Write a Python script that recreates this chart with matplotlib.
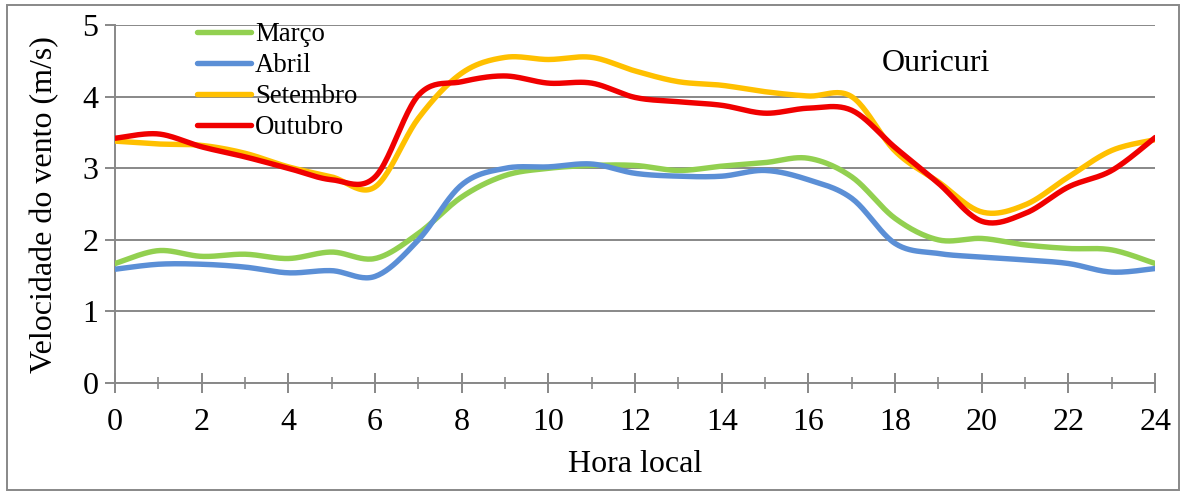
import numpy as np
import matplotlib.pyplot as plt
from matplotlib.patches import Rectangle

# ================= DATA =================
HOURS = list(range(25))

MARCO = [1.67, 1.85, 1.77, 1.80, 1.74, 1.83, 1.74, 2.09, 2.60, 2.90, 3.00, 3.04, 3.04,
         2.97, 3.03, 3.08, 3.14, 2.88, 2.30, 2.00, 2.02, 1.93, 1.88, 1.86, 1.67]
ABRIL = [1.59, 1.66, 1.66, 1.62, 1.54, 1.57, 1.49, 2.00, 2.77, 3.00, 3.02, 3.06, 2.93,
         2.89, 2.89, 2.97, 2.84, 2.58, 1.95, 1.81, 1.76, 1.72, 1.67, 1.55, 1.60]
SETEMBRO = [3.38, 3.34, 3.32, 3.21, 3.02, 2.88, 2.74, 3.70, 4.33, 4.55, 4.52, 4.55, 4.36,
            4.21, 4.16, 4.07, 4.01, 4.00, 3.24, 2.81, 2.39, 2.49, 2.88, 3.25, 3.40]
OUTUBRO = [3.42, 3.48, 3.30, 3.16, 3.00, 2.84, 2.88, 4.02, 4.21, 4.29, 4.19, 4.19, 3.99,
           3.93, 3.88, 3.77, 3.84, 3.81, 3.29, 2.79, 2.26, 2.37, 2.74, 2.97, 3.43]

SERIES = ["Março", "Abril", "Setembro", "Outubro"]
COLORS = ["#92D050", "#5B8FD6", "#FFC000", "#F00000"]

# ================= SETTINGS =================
FIGSIZE = (11.86, 4.93)
DPI = 100
LW = 3.9
GRID_C = "#888888"
FS = 23
plt.rcParams["font.family"] = ["Liberation Serif", "DejaVu Serif"]


def smooth(x, y, n=24):
    # Excel-like smoothed line: Catmull-Rom through each point
    x = np.asarray(x, dtype=float)
    y = np.asarray(y, dtype=float)
    px = np.concatenate([[x[0]], x, [x[-1]]])
    py = np.concatenate([[y[0]], y, [y[-1]]])
    xs, ys = [], []
    t = np.linspace(0, 1, n, endpoint=False)
    for i in range(1, len(px) - 2):
        p0 = np.array([px[i], py[i]])
        p3 = np.array([px[i + 1], py[i + 1]])
        c1 = p0 + (p3 - np.array([px[i - 1], py[i - 1]])) / 6.0
        c2 = p3 - (np.array([px[i + 2], py[i + 2]]) - p0) / 6.0
        b = ((1 - t) ** 3)[:, None] * p0 + (3 * (1 - t) ** 2 * t)[:, None] * c1 \
            + (3 * (1 - t) * t ** 2)[:, None] * c2 + (t ** 3)[:, None] * p3
        xs.append(b[:, 0]); ys.append(b[:, 1])
    xs.append([x[-1]]); ys.append([y[-1]])
    return np.concatenate(xs), np.concatenate(ys)


fig = plt.figure(figsize=FIGSIZE, dpi=DPI)
ax = fig.add_axes([0.097, 0.223, 0.877, 0.726])

for name, vals, col in zip(SERIES, [MARCO, ABRIL, SETEMBRO, OUTUBRO], COLORS):
    sx, sy = smooth(HOURS, vals)
    ax.plot(sx, sy, color=col, lw=LW, solid_capstyle="round", label=name, zorder=3)

ax.set_xlim(0, 24)
ax.set_ylim(0, 5)
ax.set_xticks(range(0, 25, 2))
ax.set_xticks(range(0, 25, 1), minor=True)
ax.set_yticks(range(0, 6))
ax.yaxis.grid(True, color=GRID_C, lw=1.4, zorder=0)
ax.set_axisbelow(True)
for s in ["top", "right"]:
    ax.spines[s].set_visible(False)
for s in ["left", "bottom"]:
    ax.spines[s].set_color(GRID_C)
    ax.spines[s].set_linewidth(1.4)

ax.tick_params(axis="x", which="major", direction="inout", length=14, width=1.4,
               color=GRID_C, labelsize=FS, pad=11)
ax.tick_params(axis="x", which="minor", direction="inout", length=9, width=1.2, color=GRID_C)
ax.tick_params(axis="y", which="major", direction="out", length=7, width=1.4,
               color=GRID_C, labelsize=FS, pad=5)

ax.set_xlabel("Hora local", fontsize=FS, labelpad=9)
ax.set_ylabel("Velocidade do vento (m/s)", fontsize=FS, labelpad=17)

ax.text(0.7375, 0.894, "Ouricuri", transform=ax.transAxes, fontsize=FS,
        ha="left", va="center")

ax.legend(loc="upper left", bbox_to_anchor=(0.079, 1.008), frameon=False,
          fontsize=19.3, handlelength=2.0, handletextpad=0.15, labelspacing=0.22,
          borderaxespad=0, borderpad=0)

fig.patches.append(Rectangle((0.006, 0.006), 0.988, 0.984, transform=fig.transFigure,
                             fill=False, edgecolor=GRID_C, lw=1.4))

fig.savefig("out.png", dpi=DPI)
